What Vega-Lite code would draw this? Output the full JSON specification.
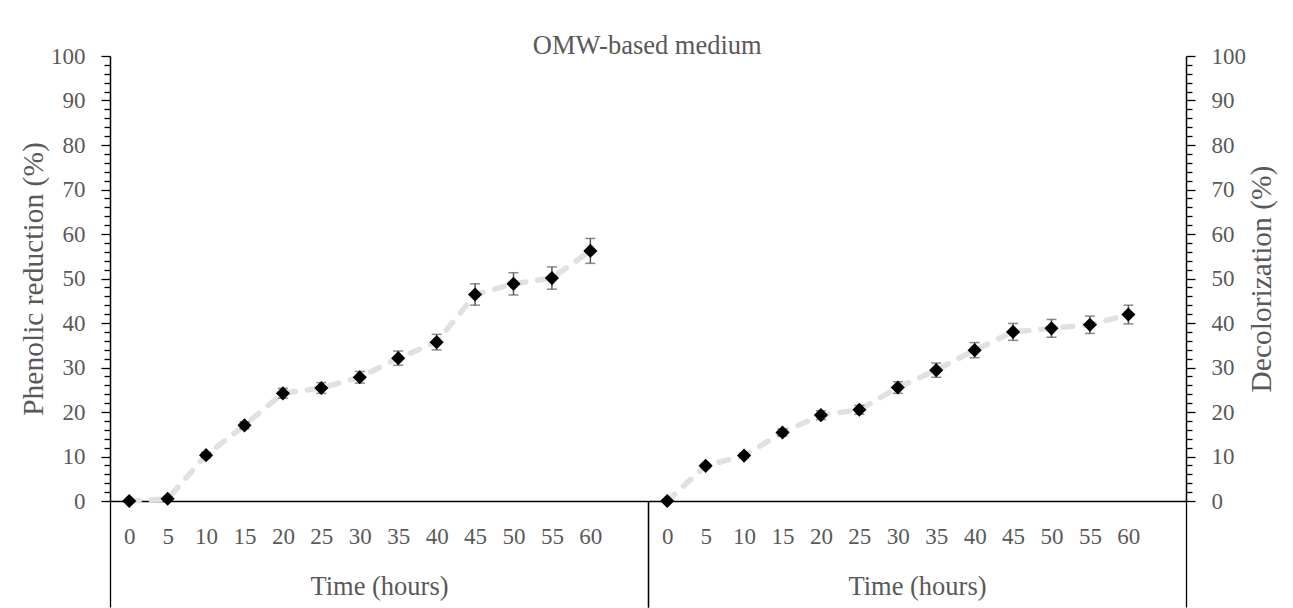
{
  "$schema": "https://vega.github.io/schema/vega-lite/v6.json",
  "background": "white",
  "padding": {"left": 18, "top": 32, "right": 10, "bottom": 0},
  "title": {"text": "OMW-based medium", "anchor": "middle", "frame": "bounds", "font": "Liberation Serif", "fontSize": 26.5, "fontWeight": "normal", "color": "#595959", "offset": -14},
  "spacing": 0,
  "bounds": "flush",
  "config": {
    "view": {"stroke": null},
    "font": "Liberation Serif",
    "axis": {"labelFont": "Liberation Serif", "titleFont": "Liberation Serif", "labelColor": "#595959", "titleColor": "#595959", "labelFontSize": 23, "titleFontSize": 29.5, "titleFontWeight": "normal", "domainColor": "black", "domainWidth": 1.5, "tickColor": "black", "tickWidth": 1.3, "grid": false}
  },
  "datasets": {
    "phenolic": [
      {"time": 0, "value": 0, "err": 0.2},
      {"time": 5, "value": 0.5, "err": 0.3},
      {"time": 10, "value": 10.3, "err": 0.6},
      {"time": 15, "value": 17.0, "err": 0.8},
      {"time": 20, "value": 24.2, "err": 1.1},
      {"time": 25, "value": 25.4, "err": 1.2},
      {"time": 30, "value": 27.8, "err": 1.3},
      {"time": 35, "value": 32.1, "err": 1.6},
      {"time": 40, "value": 35.7, "err": 1.75},
      {"time": 45, "value": 46.4, "err": 2.4},
      {"time": 50, "value": 48.8, "err": 2.5},
      {"time": 55, "value": 50.1, "err": 2.5},
      {"time": 60, "value": 56.2, "err": 2.8}
    ],
    "decolorization": [
      {"time": 0, "value": 0, "err": 0.2},
      {"time": 5, "value": 7.9, "err": 0.4},
      {"time": 10, "value": 10.2, "err": 0.5},
      {"time": 15, "value": 15.4, "err": 0.8},
      {"time": 20, "value": 19.3, "err": 1.0},
      {"time": 25, "value": 20.5, "err": 1.0},
      {"time": 30, "value": 25.5, "err": 1.3},
      {"time": 35, "value": 29.4, "err": 1.6},
      {"time": 40, "value": 33.9, "err": 1.7},
      {"time": 45, "value": 38.0, "err": 1.9},
      {"time": 50, "value": 38.8, "err": 2.0},
      {"time": 55, "value": 39.6, "err": 1.95},
      {"time": 60, "value": 41.9, "err": 2.1}
    ]
  },
  "hconcat": [
    {
      "width": 538,
      "height": 445,
      "data": {"name": "phenolic"},
      "layer": [
        {
          "mark": {"type": "line", "color": "#e1e1e1", "strokeWidth": 5.5, "strokeDash": [10, 12], "strokeCap": "round"},
          "encoding": {
            "x": {"field": "time", "type": "quantitative", "scale": {"domain": [-2.5, 67.5], "nice": false, "zero": false},
              "axis": {"orient": "bottom", "values": [0, 5, 10, 15, 20, 25, 30, 35, 40, 45, 50, 55, 60], "ticks": false, "labelPadding": 24, "title": "Time (hours)", "titleFontSize": 26.5, "titlePadding": 25, "labelFlush": false}},
            "y": {"field": "value", "type": "quantitative", "scale": {"domain": [0, 100], "nice": false},
              "axis": {"orient": "left", "values": [0, 10, 20, 30, 40, 50, 60, 70, 80, 90, 100], "tickSize": 9, "labelPadding": 16, "title": "Phenolic reduction (%)", "titlePadding": 2, "labelFlush": false}}
          }
        },
        {
          "mark": {"type": "errorbar", "color": "#595959", "thickness": 1.5, "ticks": {"size": 10, "color": "#595959", "thickness": 1.5}},
          "encoding": {
            "x": {"field": "time", "type": "quantitative", "axis": null},
            "y": {"field": "value", "type": "quantitative", "axis": null},
            "yError": {"field": "err"}
          }
        },
        {
          "mark": {"type": "point", "shape": "diamond", "filled": true, "color": "black", "size": 200, "opacity": 1},
          "encoding": {
            "x": {"field": "time", "type": "quantitative",
              "axis": {"orient": "bottom", "values": [-2.5, 67.5], "labels": false, "tickSize": 106, "domain": false, "title": null}},
            "y": {"field": "value", "type": "quantitative",
              "axis": {"orient": "left", "values": [2, 4, 6, 8, 12, 14, 16, 18, 22, 24, 26, 28, 32, 34, 36, 38, 42, 44, 46, 48, 52, 54, 56, 58, 62, 64, 66, 68, 72, 74, 76, 78, 82, 84, 86, 88, 92, 94, 96, 98], "labels": false, "tickSize": 6, "domain": false, "title": null}}
          }
        }
      ],
      "resolve": {"axis": {"x": "independent", "y": "independent"}}
    },
    {
      "width": 538,
      "height": 445,
      "data": {"name": "decolorization"},
      "layer": [
        {
          "mark": {"type": "line", "color": "#e1e1e1", "strokeWidth": 5.5, "strokeDash": [10, 12], "strokeCap": "round"},
          "encoding": {
            "x": {"field": "time", "type": "quantitative", "scale": {"domain": [-2.5, 67.5], "nice": false, "zero": false},
              "axis": {"orient": "bottom", "values": [0, 5, 10, 15, 20, 25, 30, 35, 40, 45, 50, 55, 60], "ticks": false, "labelPadding": 24, "title": "Time (hours)", "titleFontSize": 26.5, "titlePadding": 25, "labelFlush": false}},
            "y": {"field": "value", "type": "quantitative", "scale": {"domain": [0, 100], "nice": false},
              "axis": {"orient": "right", "values": [0, 10, 20, 30, 40, 50, 60, 70, 80, 90, 100], "tickSize": 9, "labelPadding": 16, "title": "Decolorization (%)", "titleAngle": 270, "titleBaseline": "top", "titlePadding": 2, "labelFlush": false}}
          }
        },
        {
          "mark": {"type": "errorbar", "color": "#595959", "thickness": 1.5, "ticks": {"size": 10, "color": "#595959", "thickness": 1.5}},
          "encoding": {
            "x": {"field": "time", "type": "quantitative", "axis": null},
            "y": {"field": "value", "type": "quantitative", "axis": null},
            "yError": {"field": "err"}
          }
        },
        {
          "mark": {"type": "point", "shape": "diamond", "filled": true, "color": "black", "size": 200, "opacity": 1},
          "encoding": {
            "x": {"field": "time", "type": "quantitative",
              "axis": {"orient": "bottom", "values": [-2.5, 67.5], "labels": false, "tickSize": 106, "domain": false, "title": null}},
            "y": {"field": "value", "type": "quantitative",
              "axis": {"orient": "right", "values": [2, 4, 6, 8, 12, 14, 16, 18, 22, 24, 26, 28, 32, 34, 36, 38, 42, 44, 46, 48, 52, 54, 56, 58, 62, 64, 66, 68, 72, 74, 76, 78, 82, 84, 86, 88, 92, 94, 96, 98], "labels": false, "tickSize": 6, "domain": false, "title": null}}
          }
        }
      ],
      "resolve": {"axis": {"x": "independent", "y": "independent"}}
    }
  ]
}
